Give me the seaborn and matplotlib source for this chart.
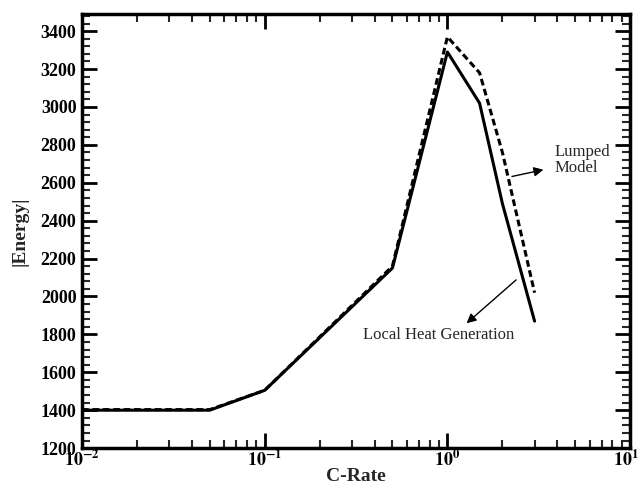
import matplotlib
matplotlib.use("Agg")
import matplotlib.pyplot as plt
import matplotlib.transforms as mtransforms
import seaborn as sns
from matplotlib.ticker import LogLocator, MultipleLocator, FixedLocator, NullFormatter

# C-rate sweep, values
crate_local = [0.01, 0.05, 0.1, 0.5, 1.0, 1.5, 2.0, 3.0]
energy_local = [1400, 1400, 1505, 2150, 3290, 3020, 2490, 1870]

crate_lumped = [0.01, 0.05, 0.1, 0.5, 1.0, 1.5, 2.0, 3.0]
energy_lumped = [1403, 1403, 1505, 2160, 3370, 3180, 2760, 2020]

x_ticks = [0.01, 0.1, 1, 10]
x_tick_labels = [r"$\mathbf{10^{-2}}$", r"$\mathbf{10^{-1}}$", r"$\mathbf{10^{0}}$", r"$\mathbf{10^{1}}$"]
y_ticks = list(range(1200, 3401, 200))

sns.set_theme(style="ticks")
plt.rcParams["font.family"] = ["Liberation Serif", "DejaVu Serif"]
plt.rcParams["mathtext.fontset"] = "stix"

fig = plt.figure(figsize=(6.41, 4.86), dpi=100)
ax = fig.add_axes([0.128, 0.078, 0.855, 0.893])

sns.lineplot(x=crate_local, y=energy_local, ax=ax, color="black", linewidth=2.2)
sns.lineplot(x=crate_lumped, y=energy_lumped, ax=ax, color="black", linewidth=2.2,
             linestyle=(0, (2.2, 1.2)))

ax.set_xscale("log")
ax.set_xlim(0.01, 10)
ax.set_ylim(1200, 3490)

ax.xaxis.set_major_locator(FixedLocator(x_ticks))
ax.set_xticklabels(x_tick_labels)
ax.xaxis.set_minor_locator(LogLocator(base=10, subs=range(2, 10)))
ax.xaxis.set_minor_formatter(NullFormatter())
ax.set_yticks(y_ticks)
ax.yaxis.set_minor_locator(MultipleLocator(40))

for lab in ax.get_yticklabels():
    lab.set_fontweight("bold")
ax.tick_params(axis="both", which="major", direction="in", length=11, width=2,
               top=True, right=True, labelsize=13, colors="black")
ax.tick_params(axis="both", which="minor", direction="in", length=6, width=1.5,
               top=True, right=True)
ax.tick_params(axis="x", which="major", pad=1, labelsize=13)
ax.tick_params(axis="y", which="major", pad=4)

# nudge the last x label left so it stays inside the figure
last = ax.get_xticklabels()[-1]
last.set_transform(last.get_transform() + mtransforms.ScaledTranslation(-3 / 72, 0, fig.dpi_scale_trans))

for sp in ax.spines.values():
    sp.set_linewidth(2.5)
    sp.set_color("black")

ax.set_xlabel("C-Rate", fontsize=14, fontweight="bold", labelpad=-1)
ax.set_ylabel("|Energy|", fontsize=14, fontweight="bold", labelpad=9)

# annotations pointing at the curves
ax.annotate("", xy=(3.47, 2672), xytext=(2.18, 2630),
            arrowprops=dict(arrowstyle="-|>", color="black", lw=1.0, mutation_scale=14))
ax.text(3.85, 2720, "Lumped\nModel", fontsize=12, ha="left", va="center", linespacing=1.05)

ax.annotate("", xy=(1.24, 1849), xytext=(2.44, 2097),
            arrowprops=dict(arrowstyle="-|>", color="black", lw=1.0, mutation_scale=14))
ax.text(0.90, 1796, "Local Heat Generation", fontsize=12, ha="center", va="center")

fig.savefig("out.png", dpi=100)
